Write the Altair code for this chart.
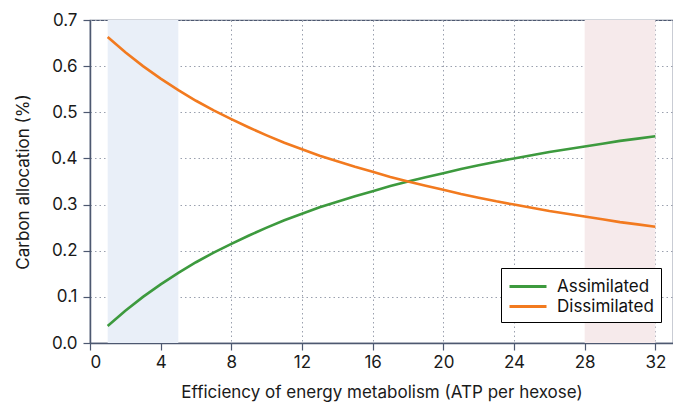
import altair as alt
import pandas as pd

# ---- data ----
x_vals = list(range(1, 33))
assimilated = [0.037, 0.070, 0.100, 0.127, 0.152, 0.175, 0.196, 0.215, 0.233, 0.250,
               0.266, 0.280, 0.294, 0.306, 0.318, 0.329, 0.340, 0.350, 0.359, 0.368,
               0.377, 0.385, 0.393, 0.400, 0.407, 0.414, 0.420, 0.426, 0.432, 0.438,
               0.443, 0.448]
dissimilated = [0.663, 0.630, 0.600, 0.573, 0.548, 0.525, 0.504, 0.485, 0.467, 0.450,
                0.434, 0.420, 0.406, 0.394, 0.382, 0.371, 0.360, 0.350, 0.341, 0.332,
                0.323, 0.315, 0.307, 0.300, 0.293, 0.286, 0.280, 0.274, 0.268, 0.262,
                0.257, 0.252]
series_names = ["Assimilated", "Dissimilated"]
series_colors = ["#3d9a3e", "#f27a1f"]
band_start = [1, 28]
band_end = [5, 32]
band_colors = ["#e9eff8", "#f6eaeb"]
x_ticks = [0, 4, 8, 12, 16, 20, 24, 28, 32]
y_ticks = [0.0, 0.1, 0.2, 0.3, 0.4, 0.5, 0.6, 0.7]

FONT = "Inter"
AXIS_COLOR = "#4d5870"

lines_df = pd.DataFrame({
    "x": x_vals * 2,
    "value": assimilated + dissimilated,
    "series": [series_names[0]] * len(x_vals) + [series_names[1]] * len(x_vals),
})
bands_df = pd.DataFrame({"start": band_start, "end": band_end, "color": band_colors})

W, H = 583, 323

x_scale = alt.Scale(domain=[0, 33], nice=False, zero=False)
y_scale = alt.Scale(domain=[0, 0.7], nice=False)

bands = alt.Chart(bands_df).mark_rect().encode(
    x=alt.X("start:Q", scale=x_scale),
    x2="end:Q",
    fill=alt.Fill("color:N", scale=None, legend=None),
)

lines = alt.Chart(lines_df).mark_line(strokeWidth=2.6).encode(
    x=alt.X("x:Q", scale=x_scale,
            axis=alt.Axis(values=x_ticks, title="Efficiency of energy metabolism (ATP per hexose)",
                          format="d")),
    y=alt.Y("value:Q", scale=y_scale,
            axis=alt.Axis(values=y_ticks, format=".1f", title="Carbon allocation (%)")),
    color=alt.Color("series:N",
                    scale=alt.Scale(domain=series_names, range=series_colors),
                    legend=alt.Legend(title=None, orient="none", legendX=411, legendY=248,
                                      direction="vertical",
                                      symbolType="M-1,0H2.7",
                                      symbolStrokeWidth=3, symbolSize=400,
                                      strokeColor="#000000", fillColor="#ffffff",
                                      padding=7, labelFontSize=17, labelFont=FONT,
                                      labelColor="#111111", rowPadding=0,
                                      labelOffset=26, cornerRadius=0)),
)

chart = alt.layer(bands, lines).properties(
    width=W, height=H,
    autosize=alt.AutoSizeParams(type="none"),
    padding={"left": 82, "top": 12, "right": 0, "bottom": 62},
).configure_view(
    stroke=AXIS_COLOR, strokeWidth=1.2
).configure_axis(
    grid=True, gridColor="#9aa0ae", gridDash=[1.5, 3], gridWidth=1,
    domainColor=AXIS_COLOR, domainWidth=1.5,
    tickColor=AXIS_COLOR, tickSize=7, tickWidth=1.2,
    labelFont=FONT, labelFontSize=17, labelColor="#1a1a1a",
    titleFont=FONT, titleFontSize=17, titleFontWeight="normal", titleColor="#1a1a1a",
).configure_axisX(
    labelPadding=4, titlePadding=14
).configure_axisY(
    labelPadding=6, titlePadding=18
)

chart.save("out.html", embed_options={"renderer": "svg", "actions": False})
